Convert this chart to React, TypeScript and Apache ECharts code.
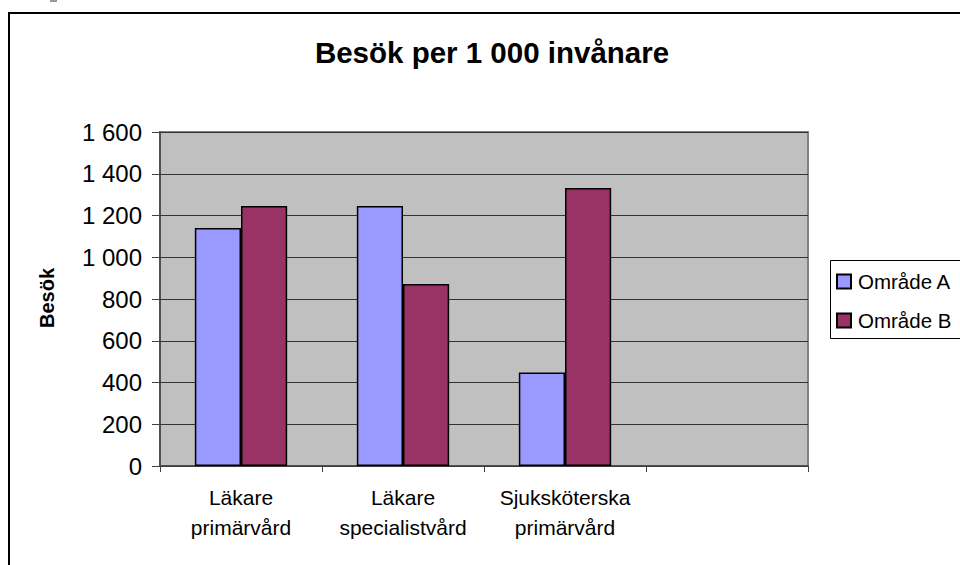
import React, { useEffect, useRef } from "react";
import * as echarts from "echarts";

const categories = ["Läkare\nprimärvård", "Läkare\nspecialistvård", "Sjuksköterska\nprimärvård", ""];
const seriesNames = ["Område A", "Område B"];
const omradeA = [1140, 1245, 448, null];
const omradeB = [1245, 872, 1332, null];
const yTicks = { min: 0, max: 1600, interval: 200 };
const titleText = "Besök per 1 000 invånare";
const yAxisName = "Besök";

const FONT = "'Liberation Sans', Arial, sans-serif";

function fmt(v: number): string {
  const s = String(Math.round(v));
  return s.replace(/\B(?=(\d{3})+(?!\d))/g, " ");
}

export default function App() {
  const ref = useRef<HTMLDivElement>(null);
  useEffect(() => {
    if (!ref.current) return;
    const chart = echarts.init(ref.current, undefined, { renderer: "svg" });
    chart.setOption({
      animation: false,
      backgroundColor: "#ffffff",
      textStyle: { fontFamily: FONT },
      grid: {
        left: 160,
        top: 132,
        width: 648,
        height: 334,
        show: true,
        backgroundColor: "#C0C0C0",
        borderColor: "#808080",
        borderWidth: 2,
      },
      legend: {
        orient: "vertical",
        left: 831,
        top: 266,
        itemWidth: 14,
        itemHeight: 14,
        itemGap: 18,
        icon: "rect",
        textStyle: { fontSize: 20.5, lineHeight: 20, color: "#000", fontFamily: FONT, padding: [0, 0, 0, 2] },
        data: seriesNames,
      },
      xAxis: {
        type: "category",
        data: categories,
        axisLine: { show: true, lineStyle: { color: "#404040", width: 1.5 } },
        axisTick: { show: true, length: 6, alignWithLabel: false, interval: 0, lineStyle: { color: "#404040" } },
        axisLabel: { fontSize: 21, lineHeight: 30, margin: 16, interval: 0, color: "#000", fontFamily: FONT },
        splitLine: { show: false },
      },
      yAxis: {
        type: "value",
        min: yTicks.min,
        max: yTicks.max,
        interval: yTicks.interval,
        axisLine: { show: true, lineStyle: { color: "#404040", width: 1.5 } },
        axisTick: { show: true, length: 8, lineStyle: { color: "#404040" } },
        axisLabel: { fontSize: 24, margin: 18, color: "#000", fontFamily: FONT, formatter: (v: number) => fmt(v) },
        splitLine: { show: true, lineStyle: { color: "#333333", width: 1 } },
      },
      series: [
        {
          name: seriesNames[0],
          type: "bar",
          data: omradeA,
          barGap: "0%",
          barCategoryGap: "43%",
          itemStyle: { color: "#9999FF", borderColor: "#000", borderWidth: 1.5 },
        },
        {
          name: seriesNames[1],
          type: "bar",
          data: omradeB,
          barGap: "0%",
          barCategoryGap: "43%",
          itemStyle: { color: "#993366", borderColor: "#000", borderWidth: 1.5 },
        },
      ],
      graphic: [
        {
          type: "rect",
          shape: { x: 9, y: 13, width: 1000, height: 600 },
          style: { fill: "none", stroke: "#000", lineWidth: 2 },
          silent: true,
        },
        {
          type: "rect",
          shape: { x: 50, y: 0, width: 7, height: 2 },
          style: { fill: "#999" },
          silent: true,
        },
        {
          type: "rect",
          shape: { x: 830.5, y: 260.5, width: 200, height: 78 },
          style: { fill: "none", stroke: "#000", lineWidth: 1 },
          silent: true,
          z: -1,
        },
        {
          type: "text",
          x: 492,
          y: 52,
          style: {
            text: titleText,
            fontSize: 29.5,
            fontWeight: "bold",
            fontFamily: FONT,
            fill: "#000",
            align: "center",
            verticalAlign: "middle",
          },
        },
        {
          type: "text",
          x: 47,
          y: 298,
          rotation: Math.PI / 2,
          style: {
            text: yAxisName,
            fontSize: 20,
            fontWeight: "bold",
            fontFamily: FONT,
            fill: "#000",
            align: "center",
            verticalAlign: "middle",
          },
        },
      ],
    });
    return () => chart.dispose();
  }, []);
  return (
    <div
      ref={ref}
      style={{ position: "absolute", left: 0, top: 0, width: 960, height: 565 }}
    />
  );
}
